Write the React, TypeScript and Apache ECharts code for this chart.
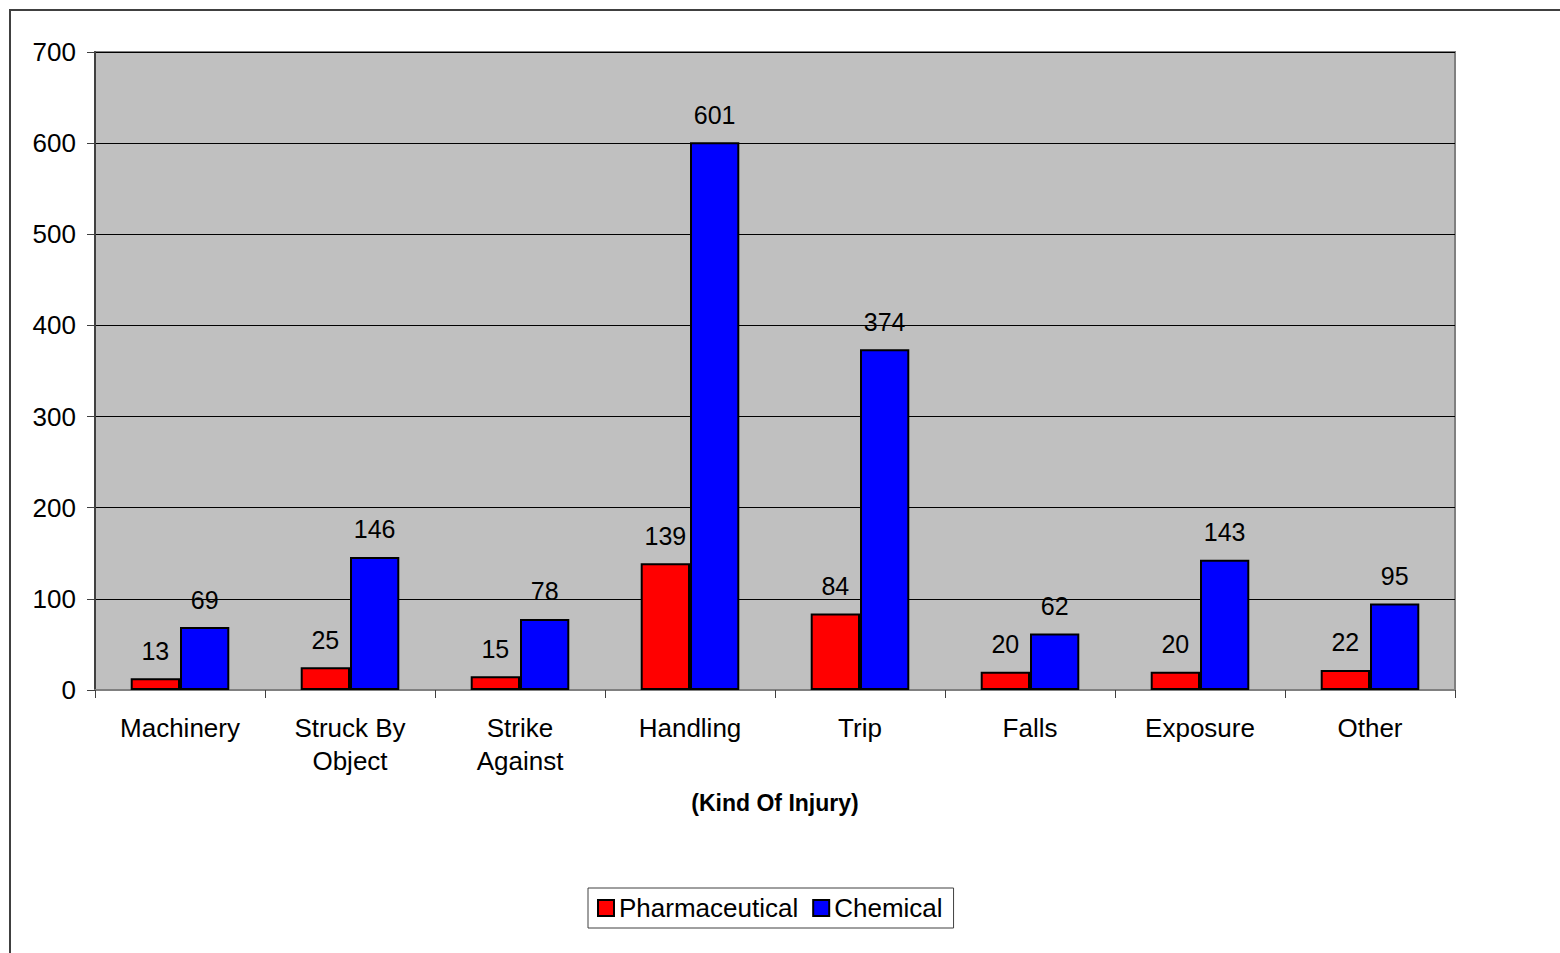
import React, { useEffect, useRef } from "react";
import * as echarts from "echarts";

const categories = ["Machinery", "Struck By\nObject", "Strike\nAgainst", "Handling", "Trip", "Falls", "Exposure", "Other"];
const pharmaceutical = [13, 25, 15, 139, 84, 20, 20, 22];
const chemical = [69, 146, 78, 601, 374, 62, 143, 95];
const yTicks = { min: 0, max: 700, interval: 100 };

const FONT = "'Liberation Sans', Arial, sans-serif";

export default function App() {
  const ref = useRef<HTMLDivElement>(null);
  useEffect(() => {
    if (!ref.current) return;
    const chart = echarts.init(ref.current, undefined, { renderer: "svg" });
    const label = {
      show: true,
      position: "top",
      distance: 15,
      color: "#000",
      fontSize: 25,
      fontFamily: FONT,
    };
    chart.setOption({
      animation: false,
      textStyle: { fontFamily: FONT },
      graphic: [
        {
          type: "rect",
          shape: { x: 10, y: 10, width: 1600, height: 1000 },
          style: { fill: "none", stroke: "#404040", lineWidth: 2 },
          silent: true,
        },
      ],
      grid: {
        left: 95,
        top: 52,
        width: 1360,
        height: 638,
        show: true,
        backgroundColor: "#C0C0C0",
        borderColor: "#808080",
        borderWidth: 2,
      },
      legend: {
        left: 588,
        top: 888,
        padding: [7, 11, 7, 9],
        itemWidth: 16,
        itemHeight: 16,
        itemGap: 14,
        icon: "rect",
        borderColor: "#404040",
        borderWidth: 1,
        textStyle: { fontSize: 26, color: "#000", fontFamily: FONT },
        data: ["Pharmaceutical", "Chemical"],
      },
      xAxis: {
        type: "category",
        data: categories,
        name: "(Kind Of Injury)",
        nameLocation: "middle",
        nameGap: 101,
        nameTextStyle: { fontSize: 23, fontWeight: "bold", color: "#000", fontFamily: FONT },
        axisLine: { lineStyle: { color: "#808080", width: 2 } },
        axisTick: { show: true, inside: false, length: 8, lineStyle: { color: "#404040" } },
        axisLabel: { color: "#000", fontSize: 26, margin: 21, lineHeight: 33, fontFamily: FONT, interval: 0 },
        splitLine: { show: false },
      },
      yAxis: {
        type: "value",
        min: yTicks.min,
        max: yTicks.max,
        interval: yTicks.interval,
        axisLine: { show: true, lineStyle: { color: "#404040", width: 2 } },
        axisTick: { show: true, length: 8, lineStyle: { color: "#404040" } },
        axisLabel: { color: "#000", fontSize: 26, margin: 19, fontFamily: FONT },
        splitLine: { show: true, lineStyle: { color: "#000", width: 1 } },
      },
      series: [
        {
          name: "Pharmaceutical",
          type: "bar",
          data: pharmaceutical,
          barWidth: "29%",
          barGap: "0%",
          itemStyle: { color: "#FF0000", borderColor: "#000", borderWidth: 2 },
          label,
        },
        {
          name: "Chemical",
          type: "bar",
          data: chemical,
          barWidth: "29%",
          barGap: "0%",
          itemStyle: { color: "#0000FF", borderColor: "#000", borderWidth: 2 },
          label,
        },
      ],
    });
    return () => chart.dispose();
  }, []);
  return (
    <div
      ref={ref}
      style={{ position: "absolute", left: 0, top: 0, width: 1560, height: 953, background: "#fff" }}
    />
  );
}
